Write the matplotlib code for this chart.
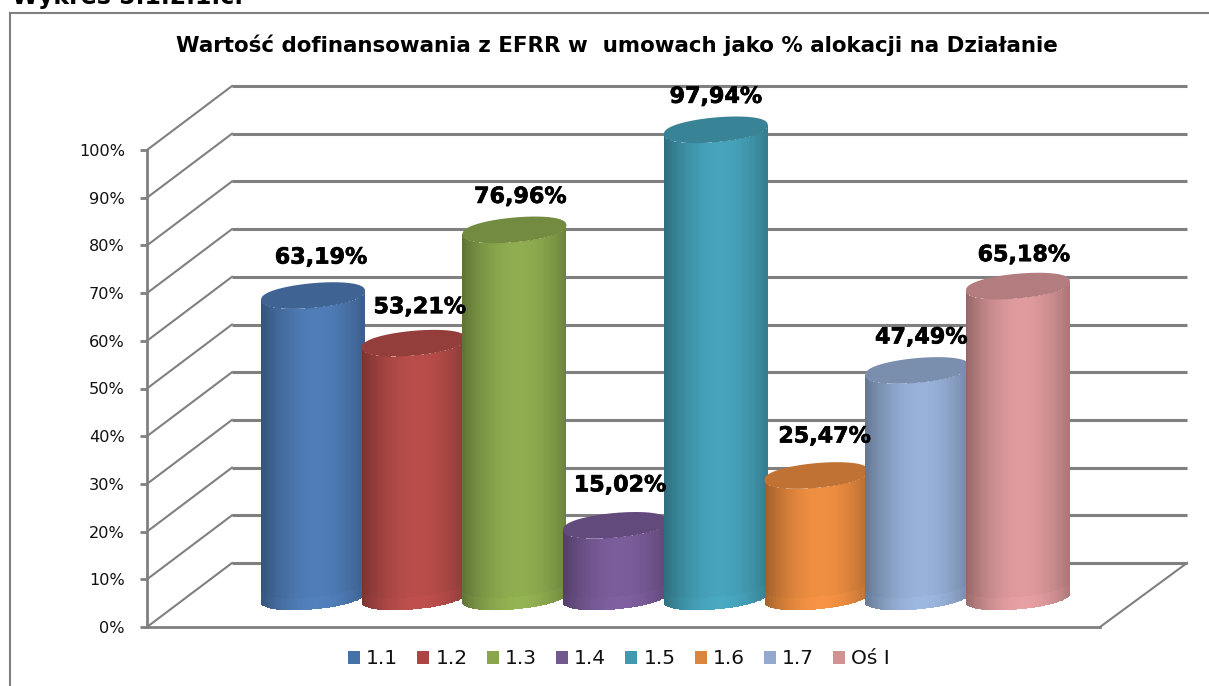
import numpy as np
import matplotlib
matplotlib.use("Agg")
import matplotlib.pyplot as plt
import matplotlib.patheffects as pe
from matplotlib.patches import Patch

names = ["1.1", "1.2", "1.3", "1.4", "1.5", "1.6", "1.7", "Oś I"]
values = [63.19, 53.21, 76.96, 15.02, 97.94, 25.47, 47.49, 65.18]
labels = ["63,19%", "53,21%", "76,96%", "15,02%", "97,94%", "25,47%", "47,49%", "65,18%"]
yticks = [0, 10, 20, 30, 40, 50, 60, 70, 80, 90, 100]
title = "Wartość dofinansowania z EFRR w  umowach jako % alokacji na Działanie"
heading = "Wykres 5.1.2.1.c."

body_colors = ["#4f7db8", "#b94d4a", "#90ae50", "#7c5d9c", "#46a4bc", "#f08f41", "#98b2da", "#e09b9e"]
legend_colors = ["#4572a7", "#aa4643", "#89a54e", "#71588f", "#4198af", "#db843d", "#93a9cf", "#d19392"]
grid_color = "#808080"

# label offsets from the middle of the cylinder top, in pixels
label_off = [(8, 38), (6, 36), (6, 33), (5, 40), (0, 33), (8, 39), (4, 33), (6, 31)]

W, H = 1209, 686
fig = plt.figure(figsize=(W / 100, H / 100), dpi=100)
ax = fig.add_axes([147 / W, (H - 627) / H, 953 / W, 477 / H])
ax.set_xlim((147 - 313) / 100.7, (1100 - 313) / 100.7)
ax.set_ylim(0, 100)
ax.patch.set_alpha(0)

# depth of the fake 3d box
dx = 85 / 100.7
dy = 64 / 4.77
x0, x1 = ax.get_xlim()
x_back = (1187 - 313) / 100.7

for v in yticks:
    ax.plot([x0, x0 + dx], [v, v + dy], color=grid_color, lw=1.5, clip_on=False, zorder=1)
    ax.plot([x0 + dx, x_back], [v + dy, v + dy], color=grid_color, lw=2.2, clip_on=False, zorder=1,
            solid_capstyle="butt")
ax.plot([x1, x_back], [0, dy], color=grid_color, lw=1.5, clip_on=False, zorder=1)


def shade(color, u):
    base = np.array(matplotlib.colors.to_rgb(color))
    f = 1 - 0.34 * np.abs((u - 0.08) / 1.08) ** 1.9
    return np.outer(f, base)


# half width, tilt and half height of the ellipses
a = 0.516
k = 0.95
b = 2.6
base_y = 30 / 4.77
for i, v in enumerate(values):
    u = np.linspace(-1, 1, 90)
    xs = i + a * u
    front = k * u - b * (1 - u ** 2) ** 0.42
    rows = np.array([base_y + front, base_y + 2.6 + front, base_y + v + front])
    X = np.tile(xs, (3, 1))
    um = (u[:-1] + u[1:]) / 2
    rgb = shade(body_colors[i], um)
    C = np.zeros((2, len(um), 3))
    C[0] = np.clip(rgb * 1.03, 0, 1)
    C[1] = rgb
    ax.pcolormesh(X, rows, C, shading="flat", clip_on=False, zorder=2 + i)
    t = np.linspace(0, 2 * np.pi, 120)
    ex = i + a * np.cos(t)
    ey = base_y + v + k * np.cos(t) + b * np.sign(np.sin(t)) * np.abs(np.sin(t)) ** 0.84
    ax.fill(ex, ey, color=tuple(np.array(matplotlib.colors.to_rgb(body_colors[i])) * 0.8),
            clip_on=False, zorder=2 + i, lw=0)

for i, v in enumerate(values):
    ax.annotate(labels[i], (i, base_y + v), xytext=(label_off[i][0] * 0.72, label_off[i][1] * 0.72),
                textcoords="offset points", ha="center", va="center", fontsize=16, fontweight="bold",
                color="black", zorder=30, annotation_clip=False,
                path_effects=[pe.withStroke(linewidth=0.5, foreground="black")])

for s in ["top", "right"]:
    ax.spines[s].set_visible(False)
for s in ["left", "bottom"]:
    ax.spines[s].set_color(grid_color)
    ax.spines[s].set_linewidth(2)
ax.set_xticks([])
ax.set_yticks(yticks)
ax.set_yticklabels([str(v) + "%" for v in yticks], fontsize=11.6, color="#111111")
ax.tick_params(axis="y", length=5, width=2, color=grid_color, pad=11)

# outer frame of the chart, cut by the page on the right and at the bottom
fig.add_artist(plt.Line2D([9.5 / W, 9.5 / W], [0, 1 - 13 / H], color=grid_color, lw=1.5))
fig.add_artist(plt.Line2D([9.5 / W, 1], [1 - 13 / H, 1 - 13 / H], color=grid_color, lw=1.5))

fig.text(617 / W, 1 - 45 / H, title, ha="center", va="center", fontsize=15.4, fontweight="bold")
fig.text(12 / W, 1 - 4 / H, heading, ha="left", va="baseline", fontsize=17, fontweight="bold")

handles = [Patch(facecolor=c, edgecolor="none") for c in legend_colors]
fig.legend(handles, names, loc="center", bbox_to_anchor=(619 / W, 1 - 659 / H), ncol=8, frameon=False,
           fontsize=14.5, handlelength=0.6, handleheight=0.6, handletextpad=0.3, columnspacing=0.95,
           labelcolor="#111111")

fig.savefig("out.png", dpi=100, facecolor="white")
